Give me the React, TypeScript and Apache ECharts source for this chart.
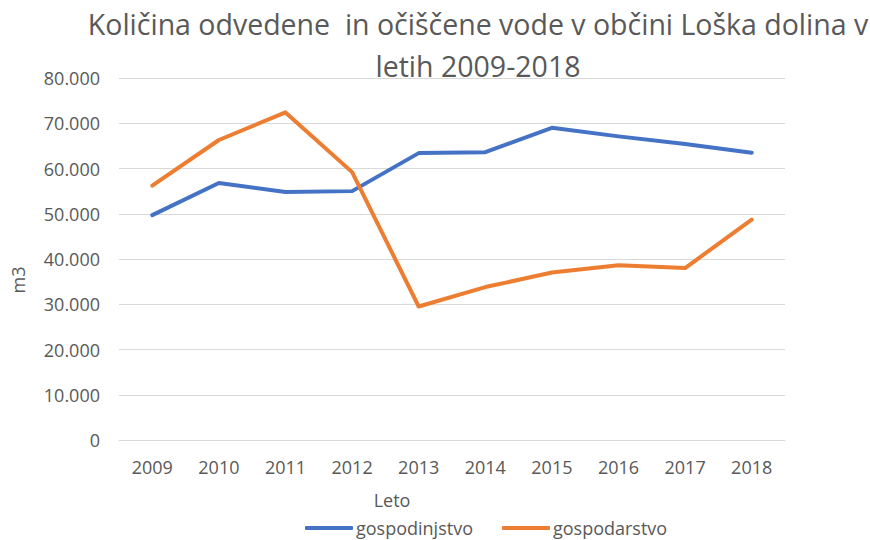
import React, { useEffect, useRef } from "react";
import * as echarts from "echarts";

const titleText = "Količina odvedene  in očiščene vode v občini Loška dolina v\nletih 2009-2018";
const years = ["2009", "2010", "2011", "2012", "2013", "2014", "2015", "2016", "2017", "2018"];
const gospodinjstvo = [49700, 56800, 54800, 55000, 63400, 63600, 69000, 67100, 65400, 63500];
const gospodarstvo = [56200, 66300, 72400, 59200, 29500, 33800, 37000, 38600, 38000, 48700];
const seriesNames = ["gospodinjstvo", "gospodarstvo"];
const xAxisTitle = "Leto";
const yAxisTitle = "m3";

const FONT = "'Open Sans', sans-serif";
const TEXT = "#595959";

function fmt(v: number): string {
  if (v === 0) return "0";
  const s = String(Math.round(v));
  return s.replace(/\B(?=(\d{3})+(?!\d))/g, ".");
}

export default function App() {
  const ref = useRef<HTMLDivElement>(null);
  useEffect(() => {
    if (!ref.current) return;
    const chart = echarts.init(ref.current, undefined, { renderer: "svg" });
    chart.setOption({
      animation: false,
      backgroundColor: "#ffffff",
      title: {
        text: titleText,
        left: 478,
        top: 3,
        padding: 0,
        textAlign: "center",
        textStyle: {
          fontFamily: FONT,
          fontSize: 28.5,
          fontWeight: 400,
          color: TEXT,
          lineHeight: 42,
        },
      },
      graphic: [
        {
          type: "text",
          x: 392,
          y: 500,
          style: {
            text: xAxisTitle,
            fill: TEXT,
            font: `18px ${FONT}`,
            textAlign: "center",
            textVerticalAlign: "middle",
          },
        },
        {
          type: "text",
          x: 18,
          y: 280,
          rotation: Math.PI / 2,
          style: {
            text: yAxisTitle,
            fill: TEXT,
            font: `18px ${FONT}`,
            textAlign: "center",
            textVerticalAlign: "middle",
          },
        },
      ],
      legend: {
        left: 305,
        top: 519,
        padding: 0,
        itemWidth: 48,
        itemHeight: 4,
        itemGap: 29,
        icon: "roundRect",
        textStyle: { fontFamily: FONT, fontSize: 18, color: TEXT, padding: [0, 0, 0, -2] },
        data: seriesNames,
      },
      grid: { left: 119, right: 85, top: 78, bottom: 100, containLabel: false },
      xAxis: {
        type: "category",
        data: years,
        boundaryGap: true,
        axisLine: { show: true, lineStyle: { color: "#D9D9D9", width: 1 } },
        axisTick: { show: false },
        axisLabel: { fontFamily: FONT, fontSize: 18, color: TEXT, margin: 18 },
      },
      yAxis: {
        type: "value",
        min: 0,
        max: 80000,
        interval: 10000,
        axisLine: { show: false },
        axisTick: { show: false },
        splitLine: { lineStyle: { color: "#D9D9D9", width: 1 } },
        axisLabel: {
          fontFamily: FONT,
          fontSize: 18,
          color: TEXT,
          margin: 19,
          formatter: (v: number) => fmt(v),
        },
      },
      series: [
        {
          name: seriesNames[0],
          type: "line",
          data: gospodinjstvo,
          symbol: "none",
          color: "#4472C4",
          lineStyle: { width: 4, color: "#4472C4", cap: "round", join: "round" },
        },
        {
          name: seriesNames[1],
          type: "line",
          data: gospodarstvo,
          symbol: "none",
          color: "#ED7D31",
          lineStyle: { width: 4, color: "#ED7D31", cap: "round", join: "round" },
        },
      ],
    });
    return () => chart.dispose();
  }, []);
  return (
    <div
      ref={ref}
      style={{ position: "fixed", left: 0, top: 0, width: 870, height: 540, background: "#fff" }}
    />
  );
}
